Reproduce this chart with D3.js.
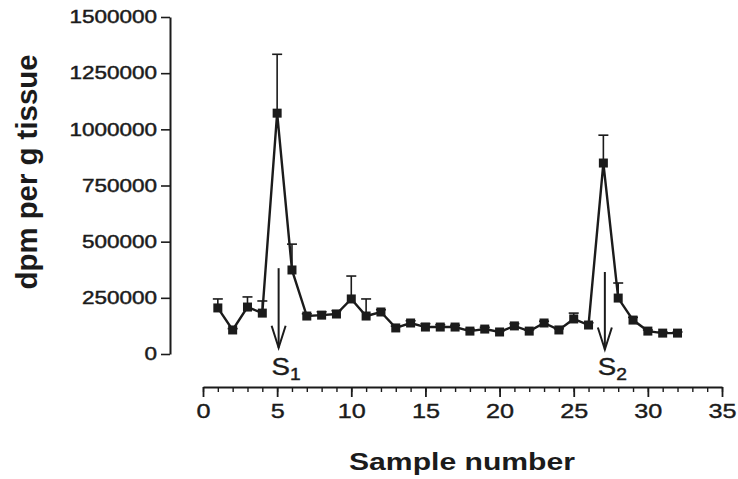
<!DOCTYPE html>
<html>
<head>
<meta charset="utf-8">
<script src="https://cdn.jsdelivr.net/npm/d3@7"></script>
<style>
  body { margin: 0; background: #fff; }
  text { font-family: "Liberation Sans", Arial, sans-serif; fill: #1b1b1b; }
</style>
</head>
<body>
<svg width="738" height="479"></svg>
<script>
// sample number, mean dpm per g tissue, upper error (SEM)
var samples = [1, 2, 3, 4, 5, 6, 7, 8, 9, 10, 11, 12, 13, 14, 15, 16,
               17, 18, 19, 20, 21, 22, 23, 24, 25, 26, 27, 28, 29, 30, 31, 32];
var means = [205000, 107000, 209000, 182000, 1072000, 374000, 169000, 173000,
             178000, 245000, 169000, 187000, 116000, 138000, 120000, 120000,
             120000, 102000, 111000, 98000, 125000, 102000, 138000, 107000,
             156000, 129000, 850000, 249000, 151000, 102000, 93000, 93000];
var errs = [40000, 6000, 45000, 54000, 262000, 115000, 10000, 15000,
            15000, 102000, 76000, 10000, 8000, 10000, 15000, 10000,
            8000, 8000, 8000, 5000, 10000, 5000, 8000, 5000,
            26000, 10000, 124000, 67000, 12000, 5000, 5000, 5000];
var yTicks = [0, 250000, 500000, 750000, 1000000, 1250000, 1500000];
var xTicks = [0, 5, 10, 15, 20, 25, 30, 35];
var xMinor = [0, 1, 2, 3, 4, 5, 6, 7, 8, 9, 10, 11, 12, 13, 14, 15, 16, 17,
              18, 19, 20, 21, 22, 23, 24, 25, 26, 27, 28, 29, 30, 31, 32, 33, 34, 35];
// stimulation markers
var stims = [{sample: 5.1, sub: "1", top: 382000, tip: 28000},
             {sample: 27.1, sub: "2", top: 365000, tip: 20000}];

var data = samples.map(function(s, i) { return {s: s, v: means[i], e: errs[i]}; });

var svg = d3.select("svg");
var x = d3.scaleLinear().domain([0, 35]).range([203, 722]);
var y = d3.scaleLinear().domain([0, 1500000]).range([354, 17]);
var ink = "#1b1b1b";

// stretch text horizontally like the scanned original
function stretch(sel, k) {
  sel.each(function() {
    var w = this.getComputedTextLength();
    this.setAttribute("textLength", w * k);
    this.setAttribute("lengthAdjust", "spacingAndGlyphs");
  });
}

// y axis
var yAxis = svg.append("g")
    .attr("transform", "translate(170,0)")
    .call(d3.axisLeft(y).tickValues(yTicks).tickFormat(d3.format("d"))
      .tickSize(9).tickSizeOuter(0).tickPadding(4));
yAxis.select(".domain").attr("stroke", ink).attr("stroke-width", 2);
yAxis.selectAll(".tick line").attr("stroke", ink).attr("stroke-width", 1.6);
yAxis.selectAll(".tick text")
    .attr("font-size", 18)
    .attr("fill", ink)
    .attr("stroke", ink).attr("stroke-width", 0.45)
    .attr("font-family", "Liberation Sans, Arial, sans-serif")
    .call(stretch, 1.25);

// x axis, minor ticks
var xg = svg.append("g").attr("transform", "translate(0,387)");
xg.call(d3.axisBottom(x).tickValues(xMinor).tickFormat("").tickSize(5).tickSizeOuter(0));
xg.select(".domain").attr("stroke", ink).attr("stroke-width", 2);
xg.selectAll(".tick line").attr("stroke", ink).attr("stroke-width", 1.4);
var xg2 = svg.append("g").attr("transform", "translate(0,387)");
xg2.call(d3.axisBottom(x).tickValues(xTicks).tickFormat(d3.format("d"))
    .tickSize(10).tickSizeOuter(0).tickPadding(6));
xg2.select(".domain").remove();
xg2.selectAll(".tick line").attr("stroke", ink).attr("stroke-width", 1.8);
xg2.selectAll(".tick text")
    .attr("font-size", 21)
    .attr("fill", ink)
    .attr("stroke", ink).attr("stroke-width", 0.4)
    .attr("font-family", "Liberation Sans, Arial, sans-serif")
    .call(stretch, 1.2);

// error bars (upper only)
var eb = svg.append("g").attr("stroke", ink).attr("stroke-width", 1.6);
eb.selectAll("line.v").data(data).enter().append("line")
    .attr("x1", function(d) { return x(d.s); })
    .attr("x2", function(d) { return x(d.s); })
    .attr("y1", function(d) { return y(d.v); })
    .attr("y2", function(d) { return y(d.v + d.e); });
eb.selectAll("line.c").data(data).enter().append("line")
    .attr("x1", function(d) { return x(d.s) - 5; })
    .attr("x2", function(d) { return x(d.s) + 5; })
    .attr("y1", function(d) { return y(d.v + d.e); })
    .attr("y2", function(d) { return y(d.v + d.e); });

// line
svg.append("path")
    .datum(data)
    .attr("fill", "none")
    .attr("stroke", ink)
    .attr("stroke-width", 2.4)
    .attr("d", d3.line().x(function(d) { return x(d.s); }).y(function(d) { return y(d.v); }));

// square markers
svg.append("g").selectAll("rect").data(data).enter().append("rect")
    .attr("x", function(d) { return x(d.s) - 4.5; })
    .attr("y", function(d) { return y(d.v) - 4.5; })
    .attr("width", 9)
    .attr("height", 9)
    .attr("fill", ink);

// stimulation arrows
var st = svg.append("g").selectAll("g").data(stims).enter().append("g");
st.append("line")
    .attr("x1", function(d) { return x(d.sample); })
    .attr("x2", function(d) { return x(d.sample); })
    .attr("y1", function(d) { return y(d.top); })
    .attr("y2", function(d) { return y(d.tip); })
    .attr("stroke", ink).attr("stroke-width", 2);
st.append("path")
    .attr("d", function(d) {
      var cx = x(d.sample), ty = y(d.tip);
      return "M" + (cx - 7) + "," + (ty - 22) + "L" + cx + "," + ty + "L" + (cx + 7) + "," + (ty - 22);
    })
    .attr("fill", "none")
    .attr("stroke", ink).attr("stroke-width", 2);
var lab = st.append("text")
    .attr("x", function(d) { return x(d.sample) - 7; })
    .attr("y", 375)
    .attr("font-size", 23)
    .attr("stroke", ink).attr("stroke-width", 0.4);
lab.append("tspan").text("S");
lab.append("tspan").attr("dy", 5).attr("font-size", 16).text(function(d) { return d.sub; });
lab.call(stretch, 1.2);

// axis titles
svg.append("text")
    .attr("x", 462)
    .attr("y", 470)
    .attr("text-anchor", "middle")
    .attr("font-size", 24)
    .attr("font-weight", "bold")
    .attr("textLength", 226)
    .attr("lengthAdjust", "spacingAndGlyphs")
    .text("Sample number");

svg.append("text")
    .attr("transform", "translate(37,172) scale(1.3,1) rotate(-90)")
    .attr("text-anchor", "middle")
    .attr("font-size", 22)
    .attr("font-weight", "bold")
    .attr("textLength", 235)
    .attr("lengthAdjust", "spacingAndGlyphs")
    .text("dpm per g tissue");
</script>
</body>
</html>
